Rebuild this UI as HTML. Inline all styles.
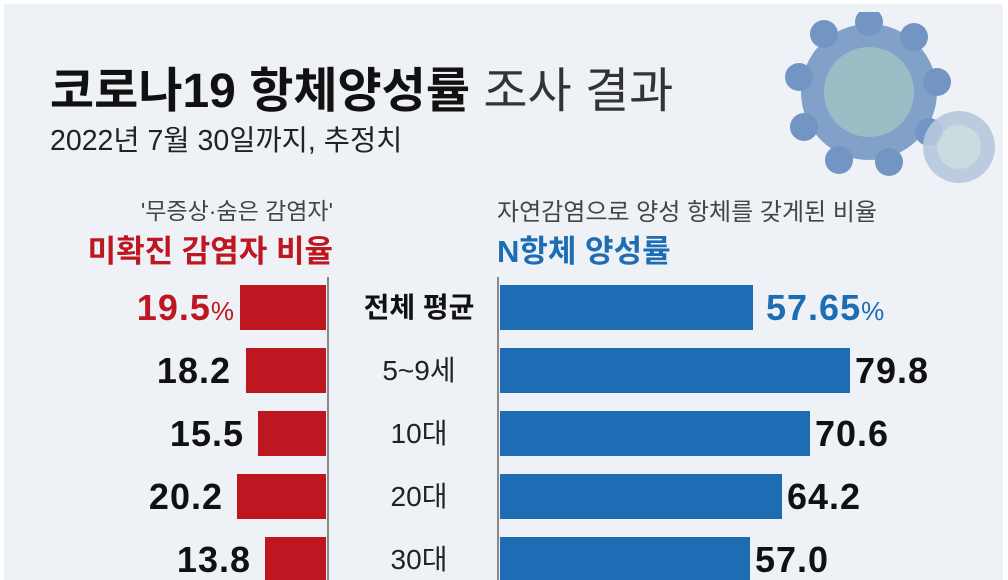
<!DOCTYPE html>
<html><head><meta charset="utf-8"><style>
body{margin:0;width:1008px;height:580px;overflow:hidden;background:#fff;font-family:"Liberation Sans","Noto Sans CJK KR",sans-serif;}
#c{position:absolute;left:4px;top:4px;width:999px;height:576px;background:#eef1f5;overflow:hidden}
.a{position:absolute;white-space:nowrap}
.r{background:#bf1722;position:absolute;height:45px}
.b{background:#1d6db5;position:absolute;height:45px}
.v{position:absolute;font-weight:bold;font-size:36px;color:#111;line-height:45px;letter-spacing:1px}
.l{position:absolute;left:330px;width:170px;text-align:center;font-size:28px;line-height:45px;color:#222}
</style></head><body><div id="c">
<svg class="a" style="left:770px;top:8px" width="230" height="180">
<g fill="#6f94c2" opacity=".85">
<circle cx="95" cy="80" r="68"/>
<g fill="#5d86bb"><circle cx="95" cy="10" r="14"/><circle cx="140" cy="25" r="14"/><circle cx="163" cy="70" r="14"/><circle cx="155" cy="120" r="14"/><circle cx="115" cy="150" r="14"/><circle cx="65" cy="148" r="14"/><circle cx="30" cy="115" r="14"/><circle cx="25" cy="65" r="14"/><circle cx="50" cy="22" r="14"/></g>
<circle cx="95" cy="80" r="45" fill="#8bb4bd"/>
</g>
<g fill="#b6c9df" opacity=".9"><circle cx="185" cy="135" r="36"/><circle cx="185" cy="135" r="22" fill="#c8d9de"/></g>
</svg>
<div class="a" style="left:46px;top:47px;font-size:48px;font-weight:bold;color:#111">코로나19 항체양성률 <span style="font-weight:normal;color:#333">조사 결과</span></div>
<div class="a" style="left:46px;top:114px;font-size:28.5px;color:#222">2022년 7월 30일까지, 추정치</div>
<div class="a" style="right:670px;top:188px;font-size:23px;color:#444">'무증상·숨은 감염자'</div>
<div class="a" style="right:670px;top:222px;font-size:31px;font-weight:bold;color:#bf1722">미확진 감염자 비율</div>
<div class="a" style="left:493px;top:188px;font-size:24px;color:#444">자연감염으로 양성 항체를 갖게된 비율</div>
<div class="a" style="left:493px;top:222px;font-size:31px;font-weight:bold;color:#1d6db5">N항체 양성률</div>
<div class="a" style="left:323px;top:273px;width:2px;height:310px;background:#888"></div>
<div class="a" style="left:493px;top:273px;width:2px;height:310px;background:#888"></div>

<div class="r" style="left:236px;top:281px;width:86px"></div>
<div class="r" style="left:242px;top:344px;width:80px"></div>
<div class="r" style="left:254px;top:407px;width:68px"></div>
<div class="r" style="left:233px;top:470px;width:89px"></div>
<div class="r" style="left:261px;top:533px;width:61px"></div>
<div class="v" style="right:768px;top:281px;color:#bf1722">19.5<span style="font-weight:normal;font-size:26px">%</span></div>
<div class="v" style="right:772px;top:344px">18.2</div>
<div class="v" style="right:759px;top:407px">15.5</div>
<div class="v" style="right:780px;top:470px">20.2</div>
<div class="v" style="right:752px;top:533px">13.8</div>

<div class="l" style="top:281px;font-weight:bold;color:#111">전체 평균</div>
<div class="l" style="top:344px">5~9세</div>
<div class="l" style="top:407px">10대</div>
<div class="l" style="top:470px">20대</div>
<div class="l" style="top:533px">30대</div>

<div class="b" style="left:496px;top:281px;width:253px"></div>
<div class="b" style="left:496px;top:344px;width:350px"></div>
<div class="b" style="left:496px;top:407px;width:310px"></div>
<div class="b" style="left:496px;top:470px;width:282px"></div>
<div class="b" style="left:496px;top:533px;width:250px"></div>
<div class="v" style="left:762px;top:281px;color:#1d6db5">57.65<span style="font-weight:normal;font-size:26px">%</span></div>
<div class="v" style="left:851px;top:344px">79.8</div>
<div class="v" style="left:811px;top:407px">70.6</div>
<div class="v" style="left:783px;top:470px">64.2</div>
<div class="v" style="left:751px;top:533px">57.0</div>
</div></body></html>
